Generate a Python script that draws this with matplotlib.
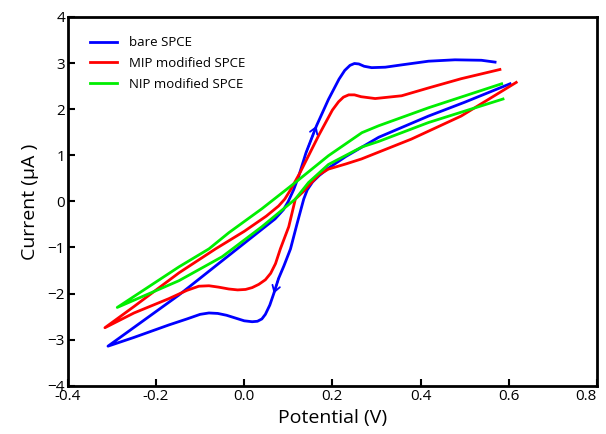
import matplotlib
matplotlib.use("Agg")
import matplotlib.pyplot as plt
import numpy as np

# bare SPCE: reverse sweep (0.6 V -> -0.31 V) then forward sweep back up
bare_v = [0.603, 0.50, 0.418, 0.305, 0.23, 0.191, 0.17, 0.155, 0.143, 0.135, 0.12,
          0.105, 0.09, 0.078, 0.067, 0.058, 0.048, 0.04, 0.03, 0.018, 0.0, -0.02,
          -0.04, -0.06, -0.08, -0.10, -0.13, -0.171, -0.25, -0.309,
          -0.148, -0.016, 0.07, 0.089, 0.10, 0.112, 0.123, 0.14, 0.164, 0.191, 0.215,
          0.228, 0.24, 0.25, 0.26, 0.272, 0.289, 0.32, 0.357, 0.418, 0.478, 0.538, 0.569]
bare_i = [2.55, 2.15, 1.85, 1.39, 0.97, 0.72, 0.56, 0.42, 0.25, 0.05, -0.48,
          -1.03, -1.40, -1.67, -2.00, -2.25, -2.45, -2.55, -2.60, -2.61, -2.59, -2.53,
          -2.47, -2.43, -2.42, -2.45, -2.55, -2.68, -2.95, -3.14,
          -2.03, -1.03, -0.38, -0.18, 0.0, 0.25, 0.53, 1.05, 1.64, 2.21, 2.65,
          2.84, 2.95, 2.99, 2.98, 2.93, 2.90, 2.91, 2.96, 3.04, 3.07, 3.06, 3.02]

# MIP modified SPCE
mip_v = [0.617, 0.492, 0.379, 0.266, 0.23, 0.191, 0.17, 0.150, 0.135, 0.116, 0.101,
         0.082, 0.071, 0.06, 0.048, 0.033, 0.018, 0.003, -0.015, -0.035, -0.058,
         -0.08, -0.103, -0.13, -0.171, -0.25, -0.316,
         -0.25, -0.148, -0.065, 0.0, 0.05, 0.078, 0.092, 0.105, 0.127, 0.17, 0.2,
         0.214, 0.225, 0.237, 0.25, 0.265, 0.297, 0.357, 0.418, 0.492, 0.580]
mip_i = [2.58, 1.85, 1.35, 0.92, 0.81, 0.70, 0.58, 0.38, 0.22, 0.05, -0.55,
         -1.03, -1.35, -1.56, -1.70, -1.80, -1.87, -1.91, -1.92, -1.90, -1.86,
         -1.83, -1.84, -1.93, -2.11, -2.42, -2.74,
         -2.28, -1.55, -1.03, -0.65, -0.32, -0.10, 0.05, 0.25, 0.63, 1.45, 1.98,
         2.16, 2.26, 2.31, 2.31, 2.27, 2.23, 2.29, 2.46, 2.66, 2.86]

# NIP modified SPCE
nip_v = [0.584, 0.418, 0.305, 0.267, 0.191, 0.116, 0.040, -0.035, -0.080, -0.148, -0.288,
         -0.148, -0.05, 0.040, 0.116, 0.146, 0.191, 0.267, 0.305, 0.418, 0.587]
nip_i = [2.55, 2.03, 1.64, 1.49, 0.99, 0.41, -0.16, -0.68, -1.03, -1.42, -2.30,
         -1.72, -1.20, -0.55, 0.05, 0.41, 0.80, 1.18, 1.30, 1.71, 2.22]

x_ticks = [-0.4, -0.2, 0.0, 0.2, 0.4, 0.6, 0.8]
y_ticks = [-4, -3, -2, -1, 0, 1, 2, 3, 4]

plt.rcParams['font.family'] = ['Open Sans', 'DejaVu Sans']

fig = plt.figure(figsize=(6.06, 4.34), dpi=100)
ax = fig.add_axes([0.112, 0.111, 0.873, 0.85])

lw = 2.0
ax.plot(bare_v, bare_i, color='#0000ff', lw=lw, label='bare SPCE', solid_joinstyle='round')
ax.plot(mip_v, mip_i, color='#ff0000', lw=lw, label='MIP modified SPCE', solid_joinstyle='round')
ax.plot(nip_v, nip_i, color='#00ee00', lw=lw, label='NIP modified SPCE', solid_joinstyle='round')

# sweep direction arrows on the bare SPCE curve
for a, b in [(37, 38), (13, 14)]:
    ax.annotate('', xy=(bare_v[b], bare_i[b]), xytext=(bare_v[a], bare_i[a]),
                arrowprops=dict(arrowstyle='->,head_length=0.45,head_width=0.28',
                                color='#0000ff', lw=1.3, shrinkA=0, shrinkB=0))

ax.set_xlim(-0.4, 0.8)
ax.set_ylim(-4, 4)
ax.set_xticks(x_ticks)
ax.set_xticklabels(['%.1f' % v for v in x_ticks])
ax.set_yticks(y_ticks)
ax.tick_params(direction='in', length=5, width=1.5, labelsize=11, pad=2)
ax.get_xticklabels()[-1].set_horizontalalignment('right')
for s in ax.spines.values():
    s.set_linewidth(2)

ax.set_xlabel('Potential (V)', fontsize=14, labelpad=4)
ax.set_ylabel('Current (µA )', fontsize=14, labelpad=6)

ax.legend(loc='upper left', bbox_to_anchor=(0.02, 0.98), frameon=False,
          fontsize=9.5, handlelength=2.0, labelspacing=0.6, handletextpad=0.9)

fig.savefig('out.png', dpi=100)
